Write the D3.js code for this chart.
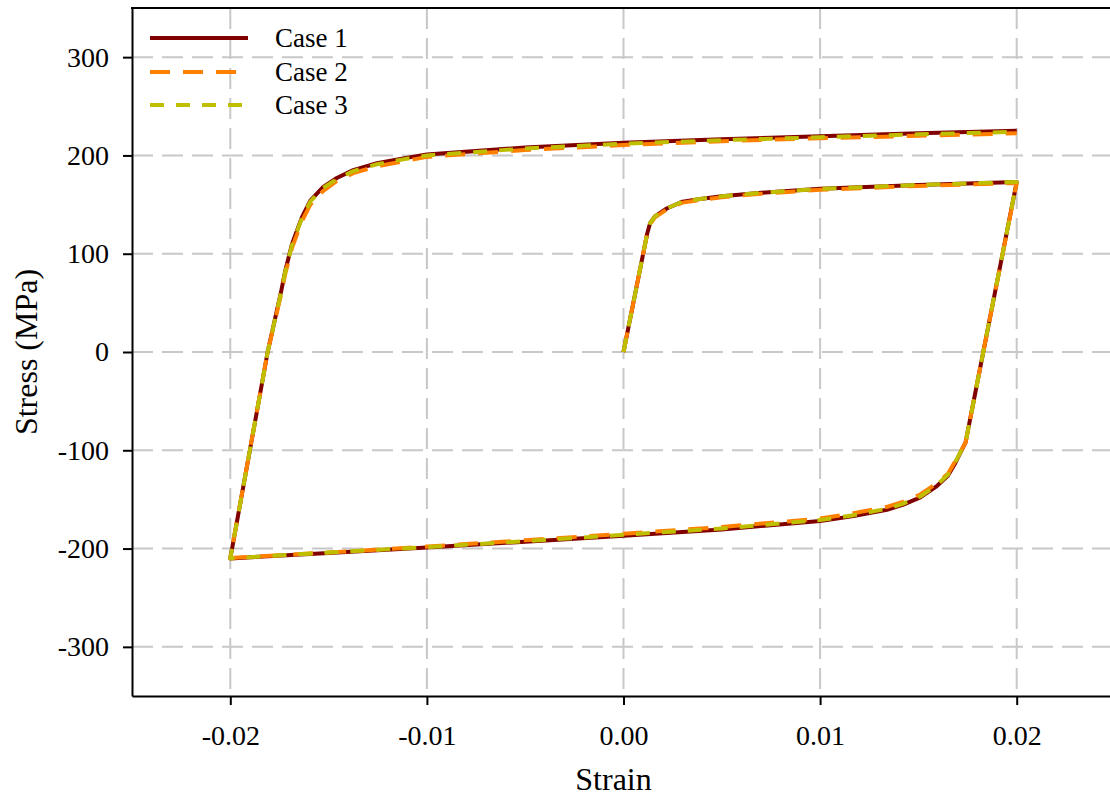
<!DOCTYPE html>
<html>
<head>
<meta charset="utf-8">
<script src="https://cdn.jsdelivr.net/npm/d3@7"></script>
<style>
  html, body { margin: 0; padding: 0; background: #fff; }
  svg { display: block; }
</style>
</head>
<body>
<svg id="chart" width="1110" height="799"></svg>
<script>
// ---- data ----
const strain = [
  0, 0.0012, 0.00135, 0.0016, 0.0019, 0.0022, 0.003, 0.004, 0.005, 0.007, 0.01, 0.015, 0.02,
  0.0183, 0.0174, 0.0171, 0.01685, 0.0165, 0.0159, 0.0151, 0.0142, 0.0134, 0.0117, 0.01, 0.005, 0, -0.005, -0.01, -0.015, -0.02,
  -0.0181, -0.0174, -0.0172, -0.01686, -0.01636, -0.01593, -0.01527, -0.01458, -0.01375, -0.01254, -0.0112, -0.01, -0.005, 0, 0.005, 0.01, 0.015, 0.02
];
const case1Stress = [
  0, 120, 131, 138, 142, 146, 153, 156, 158.5, 162, 166, 170, 173,
  0, -92, -104, -114, -126, -137, -148, -155.5, -160.5, -167, -172, -180.5, -187, -193, -199, -204.5, -210,
  0, 63, 83, 110, 137, 154, 168, 177, 185, 192, 197, 201, 208, 213, 216.5, 219.5, 222.5, 225
];
const case2Stress = [
  0, 120, 130, 137, 141, 145, 152, 155, 157.5, 161, 165, 169, 172,
  0, -92, -103, -112, -124, -134, -145, -152.5, -157.5, -164, -169.5, -178, -185, -191.5, -198, -204, -209.5,
  0, 60, 80, 106, 133, 150, 164, 174, 182, 189, 194, 198.5, 205.5, 210.5, 214.5, 217.5, 220, 222.5
];
const case3Stress = [
  0, 120, 131, 138, 142, 146, 153, 156, 158.5, 162, 166, 170, 173,
  0, -92, -103.5, -113, -125, -136, -147, -154.5, -159.5, -166, -171, -179.5, -186, -192.5, -198.5, -204, -210,
  0, 62, 82, 109, 136, 153, 167, 176, 184, 191, 196, 200, 207, 212, 215.5, 218.5, 221.5, 224
];
const seriesNames = ["Case 1", "Case 2", "Case 3"];
const xTicks = [-0.02, -0.01, 0, 0.01, 0.02];
const yTicks = [-300, -200, -100, 0, 100, 200, 300];

// ---- styles ----
const colors = ["#800000", "#ff8000", "#bfbf00"];
const dashes = [null, "20,13", "14,12"];
const FONT = "'Liberation Serif', 'Times New Roman', serif";

const svg = d3.select("#chart");
const L = 132, R = 1115, T = 8, B = 696;
const x = d3.scaleLinear().domain([-0.025, 0.025]).range([L, R]);
const y = d3.scaleLinear().domain([-350, 350]).range([B, T]);

// grid
const grid = svg.append("g").attr("stroke", "#c8c8c8").attr("stroke-width", 2).attr("stroke-dasharray", "21,9");
grid.selectAll(".gx").data(xTicks).join("line")
  .attr("x1", d => x(d)).attr("x2", d => x(d)).attr("y1", T).attr("y2", B);
grid.selectAll(".gy").data(yTicks).join("line")
  .attr("x1", L).attr("x2", R).attr("y1", d => y(d)).attr("y2", d => y(d));

// data lines
const series = [case1Stress, case2Stress, case3Stress].map((s, i) => ({
  name: seriesNames[i],
  pts: strain.map((e, j) => [e, s[j]])
}));
const line = d3.line().x(d => x(d[0])).y(d => y(d[1]));
series.forEach((s, i) => {
  svg.append("path").attr("d", line(s.pts))
    .attr("fill", "none").attr("stroke", colors[i]).attr("stroke-width", 4)
    .attr("stroke-linejoin", "round")
    .attr("stroke-dasharray", dashes[i]);
});

// axes
const xAxis = d3.axisBottom(x).tickValues(xTicks).tickFormat(d => d.toFixed(2))
  .tickSizeInner(9).tickSizeOuter(0).tickPadding(20);
const yAxis = d3.axisLeft(y).tickValues(yTicks).tickFormat(d => String(d))
  .tickSizeInner(9).tickSizeOuter(0).tickPadding(14);
const gx = svg.append("g").attr("transform", `translate(0,${B})`).call(xAxis);
const gy = svg.append("g").attr("transform", `translate(${L},0)`).call(yAxis);
[gx, gy].forEach(g => {
  g.select(".domain").attr("stroke", "#000").attr("stroke-width", 2);
  g.selectAll(".tick line").attr("stroke", "#000").attr("stroke-width", 2);
  g.selectAll(".tick text").attr("fill", "#000").style("font-family", FONT).style("font-size", "28px");
});
// top spine
svg.append("line").attr("x1", L - 1).attr("x2", R).attr("y1", T).attr("y2", T)
  .attr("stroke", "#000").attr("stroke-width", 2);

// axis titles
svg.append("text").attr("x", x(0) - 10).attr("y", 790).attr("text-anchor", "middle")
  .style("font-family", FONT).style("font-size", "32px").text("Strain");
svg.append("text").attr("transform", `translate(37,${y(0)}) rotate(-90)`).attr("text-anchor", "middle")
  .style("font-family", FONT).style("font-size", "32px").text("Stress (MPa)");

// legend
const legY = [38, 72, 105];
const leg = svg.append("g");
series.forEach((s, i) => {
  leg.append("line").attr("x1", 150).attr("x2", 248).attr("y1", legY[i]).attr("y2", legY[i])
    .attr("stroke", colors[i]).attr("stroke-width", 4).attr("stroke-dasharray", dashes[i]);
  leg.append("text").attr("x", 275).attr("y", legY[i]).attr("dy", "0.35em")
    .style("font-family", FONT).style("font-size", "27px").text(s.name);
});
</script>
</body>
</html>
